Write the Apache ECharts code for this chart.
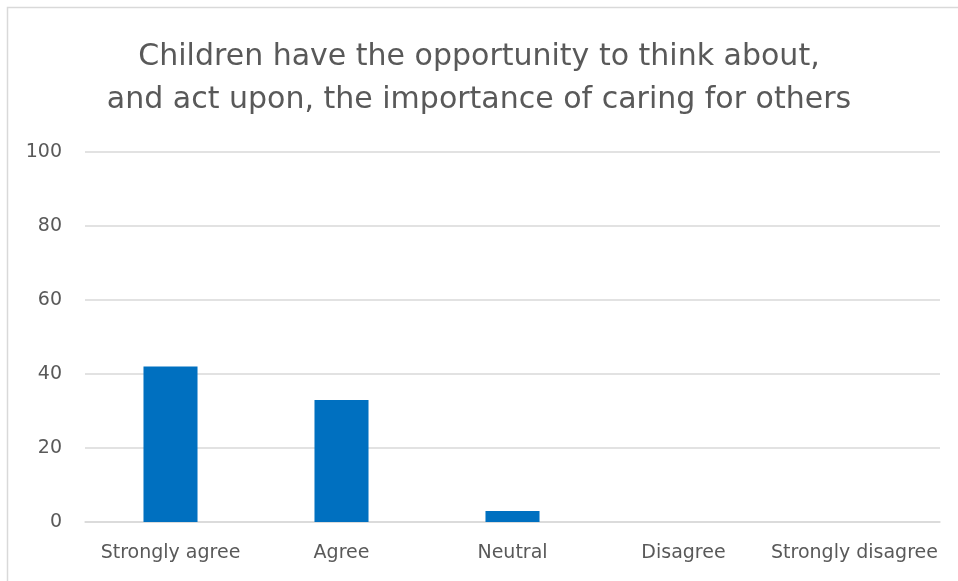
<!DOCTYPE html>
<html><head><meta charset="utf-8">
<script src="https://cdn.jsdelivr.net/npm/echarts@6/dist/echarts.min.js"></script>
<style>html,body{margin:0;padding:0;background:#fff}#c{width:958px;height:581px}</style>
</head><body><div id="c"></div>
<script>
const titleLines = ['Children have the opportunity to think about,', 'and act upon, the importance of caring for others'];
const categories = ['Strongly agree', 'Agree', 'Neutral', 'Disagree', 'Strongly disagree'];
const values = [42, 33, 3, 0, 0];
const yTicks = {min: 0, max: 100, interval: 20};

const chart = echarts.init(document.getElementById('c'));
const FONT = '"DejaVu Sans", sans-serif';
chart.setOption({
  animation: false,
  backgroundColor: '#fff',
  graphic: [{type: 'rect', shape: {x: 7.5, y: 7.5, width: 1000, height: 1000}, style: {fill: 'none', stroke: '#d9d9d9', lineWidth: 1.5}}],
  title: {
    text: titleLines.join('\n'), left: 'center', top: 31,
    textStyle: {fontFamily: FONT, fontSize: 30, fontWeight: 'normal', color: '#595959', lineHeight: 43}
  },
  grid: {left: 85, right: 18, top: 152, bottom: 59},
  xAxis: {
    type: 'category', data: categories,
    axisLine: {lineStyle: {color: '#d9d9d9', width: 1.5}}, axisTick: {show: false},
    axisLabel: {fontFamily: FONT, fontSize: 19, color: '#595959', margin: 22, interval: 0}
  },
  yAxis: {
    type: 'value', min: yTicks.min, max: yTicks.max, interval: yTicks.interval,
    axisLine: {show: false}, axisTick: {show: false},
    splitLine: {lineStyle: {color: '#d9d9d9', width: 1.5}},
    axisLabel: {fontFamily: FONT, fontSize: 19, color: '#595959', margin: 23}
  },
  series: [{type: 'bar', data: values, barWidth: '31.6%', itemStyle: {color: '#0070c0'}}]
});
</script></body></html>
